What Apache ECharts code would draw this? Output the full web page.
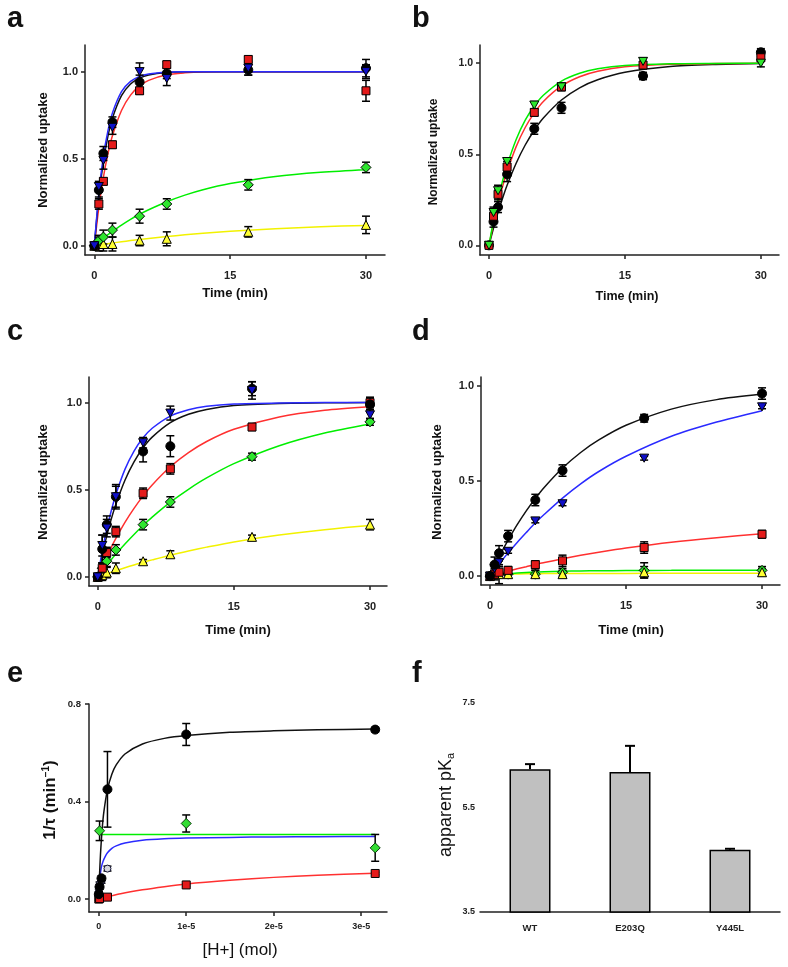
<!DOCTYPE html>
<html><head><meta charset="utf-8">
<script src="https://cdn.jsdelivr.net/npm/echarts@6/dist/echarts.min.js"></script>
<style>html,body{margin:0;padding:0;background:#fff}#c{width:788px;height:967px}</style>
</head><body><div id="c"></div>
<script>
const FONT = 'Arial, "Liberation Sans", sans-serif';

// ---------- shared ----------
const time = [0, 0.5, 1, 2, 5, 8, 17, 30];
const fitT = [0, 0.5, 1, 1.5, 2, 3, 4, 5, 6, 8, 10, 12, 15, 20, 25, 30];
const uptakeTicks = [0, 0.5, 1];
const timeTicks = [0, 15, 30];

// ---------- panel a ----------
const aBlack = [0, 0.32, 0.53, 0.71, 0.94, 0.99, 1.01, 1.02];
const aBlackErr = [0.01, 0.04, 0.04, 0.03, 0.04, 0.03, 0.03, 0.05];
const aBlue = [0, 0.34, 0.49, 0.68, 1.0, 0.96, 1.02, 1.0];
const aBlueErr = [0.01, 0.03, 0.05, 0.04, 0.05, 0.04, 0.04, 0.04];
const aRed = [0, 0.24, 0.37, 0.58, 0.89, 1.04, 1.07, 0.89];
const aRedErr = [0.01, 0.03, 0.02, 0.02, 0.02, 0.02, 0.02, 0.06];
const aGreen = [0, 0.03, 0.05, 0.09, 0.17, 0.24, 0.35, 0.45];
const aGreenErr = [0.01, 0.03, 0.04, 0.04, 0.04, 0.03, 0.03, 0.03];
const aYellow = [0, 0.01, 0.01, 0.01, 0.03, 0.04, 0.08, 0.12];
const aYellowErr = [0.01, 0.04, 0.04, 0.04, 0.03, 0.04, 0.03, 0.05];
const aBlackFit = [0, 0.281, 0.483, 0.628, 0.733, 0.862, 0.929, 0.963, 0.981, 0.995, 0.999, 1, 1, 1, 1, 1];
const aBlueFit = [0, 0.302, 0.513, 0.66, 0.763, 0.885, 0.944, 0.973, 0.987, 0.997, 0.999, 1, 1, 1, 1, 1];
const aRedFit = [0, 0.221, 0.393, 0.528, 0.632, 0.777, 0.865, 0.918, 0.95, 0.982, 0.993, 0.998, 0.999, 1, 1, 1];
const aGreenFit = [0, 0.022, 0.044, 0.064, 0.083, 0.119, 0.152, 0.181, 0.207, 0.253, 0.291, 0.322, 0.357, 0.398, 0.422, 0.437];
const aYellowFit = [0, 0.004, 0.008, 0.012, 0.016, 0.023, 0.03, 0.036, 0.042, 0.053, 0.063, 0.072, 0.083, 0.098, 0.109, 0.117];

// ---------- panel b ----------
const bBlack = [0, 0.13, 0.21, 0.39, 0.64, 0.755, 0.93, 1.06];
const bBlackErr = [0.01, 0.03, 0.03, 0.04, 0.03, 0.03, 0.02, 0.02];
const bRed = [0, 0.16, 0.28, 0.43, 0.73, 0.87, 0.99, 1.03];
const bRedErr = [0.01, 0.03, 0.03, 0.03, 0.02, 0.02, 0.02, 0.02];
const bGreen = [0, 0.18, 0.30, 0.46, 0.77, 0.87, 1.01, 1.0];
const bGreenErr = [0.01, 0.03, 0.03, 0.02, 0.02, 0.02, 0.02, 0.02];
const bBlackFit = [0, 0.095, 0.181, 0.259, 0.33, 0.451, 0.551, 0.632, 0.699, 0.798, 0.865, 0.909, 0.95, 0.982, 0.993, 0.998];
const bRedFit = [0, 0.122, 0.229, 0.323, 0.405, 0.542, 0.647, 0.727, 0.79, 0.875, 0.926, 0.956, 0.98, 0.994, 0.998, 1];
const bGreenFit = [0, 0.135, 0.252, 0.353, 0.44, 0.581, 0.687, 0.765, 0.824, 0.902, 0.945, 0.969, 0.987, 0.997, 0.999, 1];

// ---------- panel c ----------
const cBlack = [0, 0.16, 0.30, 0.46, 0.72, 0.75, 1.08, 0.99];
const cBlackErr = [0.01, 0.08, 0.05, 0.07, 0.06, 0.06, 0.04, 0.04];
const cBlue = [0, 0.18, 0.28, 0.46, 0.77, 0.94, 1.07, 0.93];
const cBlueErr = [0.01, 0.06, 0.05, 0.06, 0.03, 0.04, 0.05, 0.03];
const cRed = [0, 0.05, 0.14, 0.26, 0.48, 0.62, 0.86, 1.0];
const cRedErr = [0.01, 0.03, 0.03, 0.03, 0.03, 0.03, 0.02, 0.03];
const cGreen = [0, 0.05, 0.09, 0.155, 0.30, 0.43, 0.69, 0.89];
const cGreenErr = [0.01, 0.03, 0.03, 0.03, 0.03, 0.03, 0.02, 0.02];
const cYellow = [0, 0.01, 0.025, 0.05, 0.09, 0.13, 0.23, 0.30];
const cYellowErr = [0.01, 0.03, 0.03, 0.03, 0.01, 0.02, 0.01, 0.03];
const cBlackFit = [0, 0.126, 0.237, 0.333, 0.417, 0.555, 0.66, 0.741, 0.802, 0.885, 0.933, 0.961, 0.983, 0.995, 0.999, 1];
const cBlueFit = [0, 0.148, 0.274, 0.381, 0.473, 0.617, 0.722, 0.798, 0.853, 0.923, 0.959, 0.979, 0.992, 0.998, 1, 1];
const cRedFit = [0, 0.061, 0.118, 0.171, 0.221, 0.313, 0.393, 0.465, 0.528, 0.632, 0.713, 0.777, 0.847, 0.918, 0.956, 0.976];
const cGreenFit = [0, 0.034, 0.068, 0.1, 0.131, 0.189, 0.244, 0.295, 0.343, 0.429, 0.503, 0.568, 0.65, 0.753, 0.826, 0.878];
const cYellowFit = [0, 0.009, 0.019, 0.027, 0.036, 0.053, 0.069, 0.084, 0.098, 0.125, 0.149, 0.171, 0.201, 0.24, 0.271, 0.295];

// ---------- panel d ----------
const dBlack = [0, 0.06, 0.12, 0.21, 0.40, 0.555, 0.83, 0.96];
const dBlackErr = [0.01, 0.04, 0.04, 0.03, 0.03, 0.03, 0.02, 0.03];
const dBlue = [0, 0.04, 0.07, 0.13, 0.29, 0.38, 0.62, 0.89];
const dBlueErr = [0.01, 0.02, 0.02, 0.01, 0.01, 0.01, 0.01, 0.01];
const dRed = [0, 0.01, 0.02, 0.03, 0.06, 0.08, 0.15, 0.22];
const dRedErr = [0.01, 0.03, 0.03, 0.02, 0.02, 0.03, 0.03, 0.02];
const dGreen = [0, 0.01, 0.01, 0.01, 0.01, 0.02, 0.03, 0.03];
const dGreenErr = [0.01, 0.02, 0.02, 0.02, 0.02, 0.02, 0.04, 0.02];
const dYellow = [0, 0.01, 0.01, 0.01, 0.01, 0.01, 0.02, 0.02];
const dYellowErr = [0.01, 0.02, 0.05, 0.02, 0.02, 0.02, 0.03, 0.02];
const dBlackFit = [0, 0.051, 0.1, 0.146, 0.189, 0.27, 0.343, 0.408, 0.467, 0.568, 0.65, 0.716, 0.793, 0.878, 0.928, 0.957];
const dBlueFit = [0, 0.032, 0.063, 0.093, 0.122, 0.177, 0.229, 0.28, 0.325, 0.41, 0.485, 0.55, 0.63, 0.735, 0.81, 0.87];
const dRedFit = [0, 0.007, 0.013, 0.02, 0.026, 0.038, 0.049, 0.061, 0.071, 0.091, 0.109, 0.125, 0.147, 0.178, 0.202, 0.222];
const dGreenFit = [0, 0.004, 0.007, 0.01, 0.012, 0.016, 0.019, 0.021, 0.023, 0.025, 0.027, 0.028, 0.029, 0.03, 0.031, 0.031];
const dYellowFit = [0, 0.004, 0.007, 0.009, 0.01, 0.011, 0.012, 0.012, 0.013, 0.013, 0.014, 0.014, 0.014, 0.015, 0.015, 0.015];

// ---------- panel e ----------
const hTicks = [0, 1e-5, 2e-5, 3e-5];
const rateTicks = [0, 0.4, 0.8];
const eBlackX = [1e-8, 1e-7, 3.16e-7, 1e-6, 1e-5, 3.16e-5];
const eBlack = [0.02, 0.05, 0.085, 0.45, 0.675, 0.695];
const eBlackErr = [0.01, 0.01, 0.01, 0.155, 0.045, 0.01];
const eGreenX = [1e-7, 1e-5, 3.16e-5];
const eGreen = [0.28, 0.31, 0.21];
const eGreenErr = [0.04, 0.035, 0.055];
const eBlueX = [1e-8, 1e-7, 3.16e-7, 1e-6];
const eBlue = [0.04, 0.06, 0.075, 0.125];
const eBlueErr = [0.01, 0.01, 0.01, 0.01];
const eRedX = [1e-8, 1e-7, 1e-6, 1e-5, 3.16e-5];
const eRed = [0, 0.002, 0.008, 0.058, 0.105];
const eRedErr = [0.005, 0.005, 0.005, 0.005, 0.005];
const eBlackFitX = [1e-8, 1e-7, 2e-7, 4e-7, 6e-7, 1e-6, 1.5e-6, 2e-6, 3e-6, 5e-6, 7.5e-6, 1e-5, 1.5e-5, 2e-5, 2.5e-5, 3.16e-5];
const eBlackFit = [0.02, 0.104, 0.182, 0.29, 0.361, 0.449, 0.512, 0.55, 0.595, 0.636, 0.659, 0.671, 0.684, 0.69, 0.694, 0.697];
const eGreenFitX = [0, 3.16e-5];
const eGreenFit = [0.265, 0.265];
const eBlueFitX = [1.5e-7, 3e-7, 5e-7, 7.5e-7, 1e-6, 1.5e-6, 2e-6, 3e-6, 5e-6, 7.5e-6, 1e-5, 1.5e-5, 2e-5, 2.5e-5, 3.16e-5];
const eBlueFit = [0.095, 0.13, 0.155, 0.175, 0.19, 0.208, 0.218, 0.23, 0.241, 0.247, 0.25, 0.253, 0.255, 0.256, 0.257];
const eRedFitX = [0, 1e-6, 2.5e-6, 5e-6, 7.5e-6, 1e-5, 1.5e-5, 2e-5, 2.5e-5, 3.16e-5];
const eRedFit = [0, 0.009, 0.022, 0.038, 0.051, 0.062, 0.077, 0.089, 0.098, 0.106];

// ---------- panel f ----------
const fCats = ['WT', 'E203Q', 'Y445L'];
const fVals = [6.23, 6.18, 4.69];
const fErr = [0.1, 0.5, 0.02];
const pkTicks = [3.5, 5.5, 7.5];

// ---------- styling ----------
const COL = {
  black: '#000000', blue: '#1010c8', red: '#e41a1a', green: '#2ee62e', yellow: '#ffff33',
  lBlack: '#111111', lBlue: '#2a2aff', lRed: '#ff3030', lGreen: '#00ee00', lYellow: '#f2f200'
};
const SYM = {
  circle: 'circle', square: 'rect', tri: 'triangle',
  down: 'path://M0,0 L10,0 L5,9 Z',
  diamond: 'path://M5,0 L10,5 L5,10 L0,5 Z'
};

const grids = [
  {left: 85, top: 45, width: 300, height: 210},
  {left: 480, top: 45, width: 299, height: 210},
  {left: 89, top: 377, width: 298, height: 209},
  {left: 481, top: 377, width: 299, height: 208},
  {left: 89, top: 704, width: 298, height: 208},
  {left: 480, top: 703, width: 300, height: 209}
];

const axLine = {onZero: false, lineStyle: {color: '#222', width: 1.5}};
function valAxis(g, min, max, ticks, fmt, fs, margin) {
  return {
    type: 'value', gridIndex: g, min, max,
    axisLine: axLine,
    axisTick: {customValues: ticks, length: 4, lineStyle: {color: '#222', width: 1.5}},
    axisLabel: {customValues: ticks, formatter: fmt, fontFamily: FONT, fontWeight: 'bold',
                fontSize: fs, color: '#222', margin},
    splitLine: {show: false}
  };
}
const f1 = v => v.toFixed(1);
const f0 = v => String(Math.round(v));
const fH = v => v === 0 ? '0' : Math.round(v / 1e-5) + 'e-5';

const xAxis = [
  valAxis(0, -1.03, 32.1, timeTicks, f0, 11, 15),
  valAxis(1, -0.99, 32.0, timeTicks, f0, 11, 15),
  valAxis(2, -0.96, 31.87, timeTicks, f0, 11, 15),
  valAxis(3, -0.99, 31.98, timeTicks, f0, 11, 15),
  valAxis(4, -0.111e-5, 3.295e-5, hTicks, fH, 9, 10),
  {type: 'category', gridIndex: 5, data: fCats,
   axisLine: axLine,
   axisTick: {alignWithLabel: true, length: 4, lineStyle: {color: '#222', width: 1.5}},
   axisLabel: {fontFamily: FONT, fontWeight: 'bold', fontSize: 9.5, color: '#222', margin: 11}}
];
const yAxis = [
  valAxis(0, -0.053, 1.153, uptakeTicks, f1, 11, 7),
  valAxis(1, -0.053, 1.10, uptakeTicks, f1, 10.5, 7),
  valAxis(2, -0.052, 1.147, uptakeTicks, f1, 11, 7),
  valAxis(3, -0.047, 1.047, uptakeTicks, f1, 11, 7),
  valAxis(4, -0.053, 0.8, rateTicks, f1, 9.5, 8),
  valAxis(5, 3.5, 7.5, pkTicks, f1, 9, 5)
];

const series = [];
const zip = (xs, ys) => xs.map((x, i) => [x, ys[i]]);
function fit(g, xs, ys, color) {
  series.push({type: 'line', xAxisIndex: g, yAxisIndex: g, data: zip(xs, ys), symbol: 'none',
    smooth: 0.25, lineStyle: {color, width: 1.5}, silent: true, z: 2});
}
function errRender(params, api) {
  const x = api.value(0), y = api.value(1), e = api.value(2);
  const t = api.coord([x, y + e]), b = api.coord([x, y - e]);
  const h = 4, st = {stroke: '#000', lineWidth: 1.5};
  return {type: 'group', children: [
    {type: 'line', shape: {x1: t[0], y1: t[1], x2: b[0], y2: b[1]}, style: st},
    {type: 'line', shape: {x1: t[0] - h, y1: t[1], x2: t[0] + h, y2: t[1]}, style: st},
    {type: 'line', shape: {x1: b[0] - h, y1: b[1], x2: b[0] + h, y2: b[1]}, style: st}
  ]};
}
function err(g, xs, ys, es) {
  series.push({type: 'custom', xAxisIndex: g, yAxisIndex: g,
    data: xs.map((x, i) => [x, ys[i], es[i]]), encode: {x: 0, y: 1},
    renderItem: errRender, silent: true, z: 3});
}
function pts(g, xs, ys, symbol, color, size, border) {
  series.push({type: 'scatter', xAxisIndex: g, yAxisIndex: g, data: zip(xs, ys), symbol,
    symbolSize: size, symbolKeepAspect: true,
    itemStyle: {color, borderColor: border || '#000', borderWidth: 1, opacity: 1}, silent: true, z: 4});
}
function group(g, xs, ys, es, sym, color, size) { err(g, xs, ys, es); pts(g, xs, ys, sym, color, size); }

// panel a
fit(0, fitT, aYellowFit, COL.lYellow); fit(0, fitT, aGreenFit, COL.lGreen);
fit(0, fitT, aRedFit, COL.lRed); fit(0, fitT, aBlackFit, COL.lBlack); fit(0, fitT, aBlueFit, COL.lBlue);
group(0, time, aYellow, aYellowErr, SYM.tri, COL.yellow, 9);
group(0, time, aGreen, aGreenErr, SYM.diamond, COL.green, 10);
group(0, time, aRed, aRedErr, SYM.square, COL.red, 8);
group(0, time, aBlack, aBlackErr, SYM.circle, COL.black, 9);
group(0, time, aBlue, aBlueErr, SYM.down, COL.blue, 9);

// panel b
fit(1, fitT, bBlackFit, COL.lBlack); fit(1, fitT, bRedFit, COL.lRed); fit(1, fitT, bGreenFit, COL.lGreen);
group(1, time, bBlack, bBlackErr, SYM.circle, COL.black, 9);
group(1, time, bRed, bRedErr, SYM.square, COL.red, 8);
group(1, time, bGreen, bGreenErr, SYM.down, COL.green, 9);

// panel c
fit(2, fitT, cYellowFit, COL.lYellow); fit(2, fitT, cGreenFit, COL.lGreen);
fit(2, fitT, cRedFit, COL.lRed); fit(2, fitT, cBlackFit, COL.lBlack); fit(2, fitT, cBlueFit, COL.lBlue);
group(2, time, cYellow, cYellowErr, SYM.tri, COL.yellow, 9);
group(2, time, cGreen, cGreenErr, SYM.diamond, COL.green, 10);
group(2, time, cRed, cRedErr, SYM.square, COL.red, 8);
group(2, time, cBlack, cBlackErr, SYM.circle, COL.black, 9);
group(2, time, cBlue, cBlueErr, SYM.down, COL.blue, 9);

// panel d
fit(3, fitT, dYellowFit, COL.lYellow); fit(3, fitT, dGreenFit, COL.lGreen);
fit(3, fitT, dRedFit, COL.lRed); fit(3, fitT, dBlueFit, COL.lBlue); fit(3, fitT, dBlackFit, COL.lBlack);
group(3, time, dGreen, dGreenErr, SYM.diamond, COL.green, 10);
group(3, time, dYellow, dYellowErr, SYM.tri, COL.yellow, 9);
group(3, time, dRed, dRedErr, SYM.square, COL.red, 8);
group(3, time, dBlue, dBlueErr, SYM.down, COL.blue, 9);
group(3, time, dBlack, dBlackErr, SYM.circle, COL.black, 9);

// panel e
fit(4, eGreenFitX, eGreenFit, COL.lGreen); fit(4, eBlueFitX, eBlueFit, COL.lBlue);
fit(4, eRedFitX, eRedFit, COL.lRed); fit(4, eBlackFitX, eBlackFit, COL.lBlack);
err(4, eBlueX, eBlue, eBlueErr); pts(4, eBlueX, eBlue, SYM.circle, '#d4d4dc', 7, '#101030');
group(4, eRedX, eRed, eRedErr, SYM.square, COL.red, 8);
group(4, eBlackX, eBlack, eBlackErr, SYM.circle, COL.black, 9);
err(4, eGreenX, eGreen, eGreenErr); pts(4, eGreenX, eGreen, SYM.diamond, '#33dd33', 10, '#0a3a0a');

// panel f
series.push({type: 'bar', xAxisIndex: 5, yAxisIndex: 5, data: fVals, barWidth: 41,
  itemStyle: {color: '#c0c0c0', borderColor: '#000', borderWidth: 1.5}, silent: true, z: 2});
series.push({type: 'custom', xAxisIndex: 5, yAxisIndex: 5,
  data: fVals.map((v, i) => [i, v, fErr[i]]), encode: {x: 0, y: 1}, silent: true, z: 3,
  renderItem: (params, api) => {
    const i = api.value(0), v = api.value(1), e = api.value(2);
    const b = api.coord([i, v]), t = api.coord([i, v + e]);
    const st = {stroke: '#000', lineWidth: 2};
    return {type: 'group', children: [
      {type: 'line', shape: {x1: b[0], y1: b[1], x2: t[0], y2: t[1]}, style: st},
      {type: 'line', shape: {x1: t[0] - 5, y1: t[1], x2: t[0] + 5, y2: t[1]}, style: st}
    ]};
  }});

// ---------- text ----------
function txt(x, y, text, font, align, rot, rich) {
  const el = {type: 'text', x, y, silent: true,
    style: {text, font, fill: '#111', textAlign: align || 'center', textVerticalAlign: 'middle'}};
  if (rot) el.rotation = rot;
  if (rich) el.style.rich = rich;
  return el;
}
const R = Math.PI / 2;
const letterFont = 'bold 29px ' + FONT;
const titleFont = 'bold 13px ' + FONT;
const graphic = [
  txt(7, 19, 'a', letterFont, 'left'),
  txt(412, 19, 'b', letterFont, 'left'),
  txt(7, 332, 'c', letterFont, 'left'),
  txt(412, 332, 'd', letterFont, 'left'),
  txt(7, 674, 'e', letterFont, 'left'),
  txt(412, 674, 'f', letterFont, 'left'),
  txt(43, 150, 'Normalized uptake', titleFont, 'center', R),
  txt(434, 152, 'Normalized uptake', 'bold 12px ' + FONT, 'center', R),
  txt(43, 482, 'Normalized uptake', titleFont, 'center', R),
  txt(437, 482, 'Normalized uptake', titleFont, 'center', R),
  txt(235, 293, 'Time (min)', titleFont),
  txt(627, 297, 'Time (min)', 'bold 12.5px ' + FONT),
  txt(238, 630, 'Time (min)', titleFont),
  txt(631, 630, 'Time (min)', titleFont),
  txt(240, 950, '[H+] (mol)', '17px ' + FONT),
  txt(50, 800, '{m|1/τ (min}{s|−1}{m|)}', 'bold 17px ' + FONT, 'center', R,
      {m: {font: 'bold 17px ' + FONT, fill: '#111'},
       s: {font: 'bold 10px ' + FONT, fill: '#111', verticalAlign: 'top', padding: [0, 0, 8, 0]}}),
  txt(446, 805, '{m|apparent pK}{s|a}', '18px ' + FONT, 'center', R,
      {m: {font: '18px ' + FONT, fill: '#111'},
       s: {font: '11px ' + FONT, fill: '#111', verticalAlign: 'bottom', padding: [10, 0, 0, 0]}})
];

const chart = echarts.init(document.getElementById('c'), null, {renderer: 'canvas'});
chart.setOption({
  animation: false,
  backgroundColor: '#fff',
  grid: grids,
  xAxis, yAxis, series, graphic
});
</script></body></html>
